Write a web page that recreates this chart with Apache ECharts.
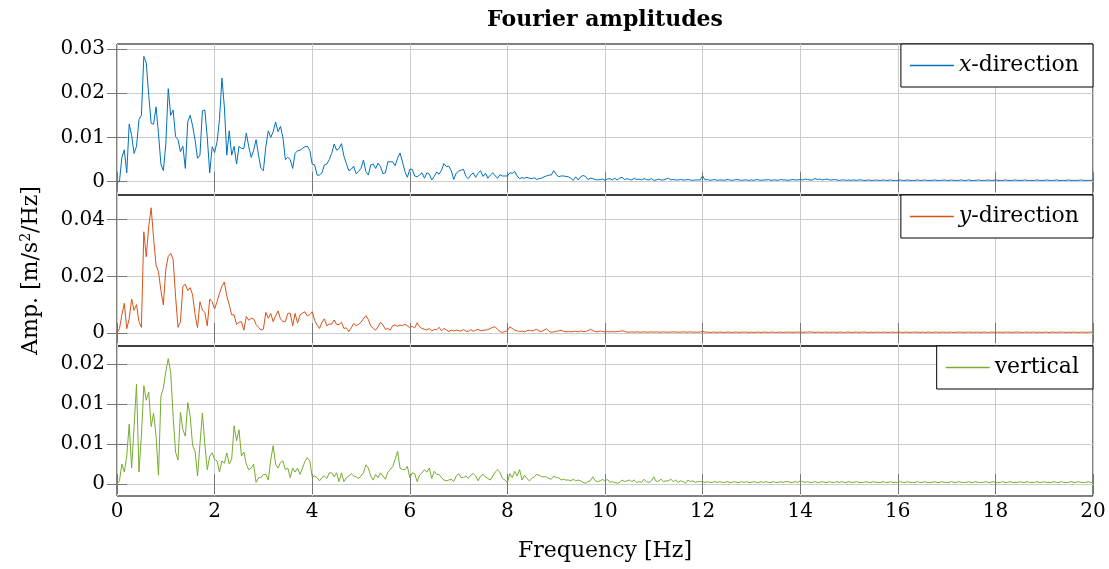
<!DOCTYPE html>
<html><head><meta charset="utf-8">
<script src="https://cdn.jsdelivr.net/npm/echarts@6/dist/echarts.min.js"></script>
<style>html,body{margin:0;padding:0;background:#fff}#c{width:1109px;height:569px}</style>
</head><body><div id="c"></div>
<script>
// Frequency grid step [Hz]; amplitudes below are in units of 1e-4 m/s^2/Hz
const FREQ_STEP = 0.05;
const UNIT = 1e-4;

const ampX = [
0,0,55,72,20,130,105,64,80,140,150,283,268,195,132,130,169,109,40,25,
85,210,150,162,102,95,68,80,30,135,150,126,94,53,60,160,162,100,20,79,
66,90,140,234,169,60,115,60,80,40,80,75,75,110,79,55,71,95,60,30,
25,80,115,100,113,135,113,125,100,50,55,50,30,64,70,71,75,79,80,71,
40,38,15,15,20,38,40,50,64,85,71,75,86,58,41,25,28,35,18,23,
30,49,23,15,38,40,30,42,34,18,20,45,45,45,36,53,65,45,23,10,
28,28,13,11,15,20,8,20,17,4,12,22,17,26,41,34,35,25,5,19,
24,26,28,12,7,15,20,10,19,25,12,19,8,15,20,13,8,16,13,13,
13,20,19,23,13,7,9,8,10,8,7,9,5,7,8,11,13,15,15,25,
17,11,13,13,12,11,8,3,11,4,11,14,12,5,8,7,5,4,5,6,
3,6,7,4,8,4,8,10,5,7,5,4,8,5,6,4,7,5,4,7,
3,4,6,4,4,6,8,4,5,4,4,5,4,4,5,4,3,4,4,4,
13,4,5,3,4,5,3,4,4,3,5,4,3,4,5,4,3,4,4,3,
4,3,5,4,3,4,4,5,3,4,4,3,5,4,4,3,4,5,4,4,
5,4,6,5,4,4,7,5,6,4,5,6,4,4,5,4,3,4,4,3,
4,3,4,3,4,4,3,3,4,3,3,4,3,3,4,3,3,4,3,3,
3,4,3,3,4,3,3,3,4,3,3,4,3,3,3,4,3,3,3,4,
3,3,4,3,3,3,4,3,3,4,3,3,3,4,3,3,3,4,3,3,
4,3,3,3,4,3,3,3,4,3,3,3,4,3,3,3,3,4,3,3,
3,4,3,3,3,4,3,3,3,3,4,3,3,3,3,4,3,3,3,3,
3];

const ampY = [
0,15,64,105,15,50,120,80,100,40,
20,357,269,375,442,334,240,216,150,99,
225,270,281,260,130,20,40,165,172,150,
160,134,64,19,110,81,72,25,120,110,
85,110,140,165,180,130,100,64,64,30,
38,40,10,58,45,52,50,30,20,10,
14,73,52,69,40,60,78,50,40,40,
69,70,25,69,35,64,70,75,60,65,
75,45,28,16,38,50,25,32,31,46,
30,30,38,16,18,5,18,34,26,30,
38,50,61,48,25,16,10,22,38,28,
13,16,10,26,28,24,28,26,31,25,
19,24,18,36,22,16,13,11,16,7,
13,11,20,8,16,11,5,10,7,10,
8,7,12,7,5,12,6,10,13,8,
10,10,12,16,20,22,12,5,2,5,
8,22,16,10,8,5,7,4,8,10,
7,10,13,7,5,10,15,7,2,4,
6,7,10,6,4,5,4,5,6,4,
7,5,5,8,13,9,5,4,7,5,
4,5,4,5,4,5,6,8,6,3,
3,4,3,4,3,3,4,3,3,4,
3,4,3,3,4,3,3,3,4,3,
3,3,4,3,3,4,3,3,3,3,
6,3,3,2,3,3,2,3,3,2,
3,3,2,3,3,2,3,3,3,2,
3,2,3,3,2,3,3,2,3,3,
2,3,3,2,3,3,3,2,3,3,
3,2,3,3,4,3,2,3,3,2,
3,3,2,3,3,2,3,3,2,3,
3,2,3,3,2,3,3,3,2,3,
2,3,3,2,3,3,2,3,3,2,
3,3,2,3,3,2,3,3,3,2,
3,2,3,3,2,3,3,2,3,3,
2,3,3,2,3,3,3,2,3,3,
3,2,3,3,2,3,3,2,3,3,
2,3,3,2,3,3,3,2,3,3,
3,2,3,3,2,3,3,2,3,2,
3,3,2,3,3,2,3,3,3,2,
3,2,3,3,2,3,3,2,3,3,
3];

const ampV = [
0,4,25,15,35,75,20,72,125,15,
60,123,105,115,72,89,60,11,110,120,
141,157,140,85,40,30,90,68,60,102,
85,48,41,10,50,89,50,18,35,39,
31,29,15,29,26,39,25,31,73,54,
68,35,40,25,18,20,25,2,8,8,
12,12,5,30,48,25,20,27,29,18,
20,8,20,15,20,12,20,28,33,29,
9,10,8,4,8,10,7,14,14,9,
14,3,14,3,8,10,13,10,9,7,
10,14,24,20,10,5,12,8,14,10,
6,15,18,22,31,41,20,18,18,22,
8,14,13,3,11,14,18,15,20,7,
16,12,12,8,5,4,5,6,3,10,
13,8,8,10,7,11,13,10,4,10,
12,9,7,5,10,15,18,14,7,5,
2,13,8,16,10,18,5,11,7,4,
7,9,12,11,9,9,9,7,6,10,
8,8,5,6,5,5,4,6,4,5,
4,2,1,3,4,9,4,3,4,6,
3,6,2,3,2,1,2,5,3,4,
5,3,5,2,3,2,6,3,2,4,
9,3,4,6,3,4,4,6,3,5,
2,4,3,1,5,3,4,2,3,3,
3,2,3,2,2,3,2,3,2,2,
3,2,2,3,2,2,3,2,3,2,
2,3,2,2,3,2,3,2,2,3,
2,2,3,2,3,3,2,2,3,2,
4,3,2,3,2,2,3,2,2,3,
2,2,3,2,2,3,2,3,2,2,
3,2,2,3,2,2,2,3,2,2,
3,2,2,2,3,2,2,3,2,2,
2,3,2,2,3,2,2,2,3,2,
2,3,2,2,2,3,2,2,3,2,
2,2,3,2,2,3,2,2,2,3,
2,2,3,2,2,2,3,2,2,3,
2,2,2,3,2,2,3,2,2,2,
3,2,2,3,2,2,2,3,2,2,
3,2,2,2,3,2,2,3,2,2,
2,3,2,2,3,2,2,2,3,2,
2];

const seriesNames = ['x-direction', 'y-direction', 'vertical'];
const seriesColors = ['#0072BD', '#D95319', '#77AC30'];

const xTickValues = [0, 2, 4, 6, 8, 10, 12, 14, 16, 18, 20];
const yTickValues = [[0, 0.01, 0.02, 0.03], [0, 0.02, 0.04], [0, 0.005, 0.01, 0.015]];
const yTickLabels = [['0', '0.01', '0.02', '0.03'], ['0', '0.02', '0.04'], ['0', '0.01', '0.01', '0.02']];
const yRanges = [[-0.003, 0.0311], [-0.00459, 0.0487], [-0.0015, 0.01729]];

const titleText = 'Fourier amplitudes';
const xAxisTitle = 'Frequency [Hz]';
const yAxisTitle = 'Amp. [m/s{sup|2}/Hz]';

const FONT = 'DejaVu Serif';
const gridTops = [44, 195, 346];
const gridHeights = [151, 151, 150];
const TICK_COLOR = '#777';
const GRID_COLOR = '#cccccc';

function toPairs(arr) {
  return arr.map((v, i) => [+(i * FREQ_STEP).toFixed(2), v * UNIT]);
}
const allAmps = [ampX, ampY, ampV];

function labelFmt(ticks, labels) {
  return function (v) {
    for (let k = 0; k < ticks.length; k++) if (Math.abs(ticks[k] - v) < 1e-9) return labels[k];
    return '';
  };
}

const grids = [], xAxes = [], yAxes = [], series = [], legends = [];
for (let i = 0; i < 3; i++) {
  grids.push({left: 117, right: 16, top: gridTops[i], height: gridHeights[i],
    show: true, borderColor: '#000', borderWidth: 1, backgroundColor: 'transparent', containLabel: false});
}
for (let i = 0; i < 3; i++) {
  xAxes.push({
    type: 'value', gridIndex: i, position: 'bottom', min: 0, max: 20, interval: 2,
    axisLine: {show: false},
    axisTick: {show: true, inside: true, length: 10, lineStyle: {color: TICK_COLOR}},
    axisLabel: {show: i === 2, margin: 6, fontFamily: FONT, fontSize: 20, color: '#000'},
    splitLine: {show: true, lineStyle: {color: GRID_COLOR, width: 1}},
    name: i === 2 ? xAxisTitle : '', nameLocation: 'middle', nameGap: 44,
    nameTextStyle: {fontFamily: FONT, fontSize: 22, color: '#000'}
  });
}
for (let i = 0; i < 3; i++) {
  xAxes.push({
    type: 'value', gridIndex: i, position: 'top', min: 0, max: 20, interval: 2,
    axisLine: {show: false},
    axisTick: {show: true, inside: true, length: 10, lineStyle: {color: TICK_COLOR}},
    axisLabel: {show: false}, splitLine: {show: false}
  });
}
for (let i = 0; i < 3; i++) {
  yAxes.push({
    type: 'value', gridIndex: i, position: 'left', min: yRanges[i][0], max: yRanges[i][1],
    axisLine: {show: false},
    axisTick: {show: true, inside: true, length: 10, lineStyle: {color: TICK_COLOR}, customValues: yTickValues[i]},
    axisLabel: {show: true, margin: 12, fontFamily: FONT, fontSize: 20, color: '#000',
      customValues: yTickValues[i], formatter: labelFmt(yTickValues[i], yTickLabels[i])},
    splitLine: {show: true, lineStyle: {color: GRID_COLOR, width: 1}},
    name: i === 1 ? yAxisTitle : '', nameLocation: 'middle', nameGap: 74, nameRotate: 90,
    nameTextStyle: {fontFamily: FONT, fontSize: 22, color: '#000',
      rich: {sup: {fontFamily: FONT, fontSize: 14, color: '#000', padding: [0, 0, 10, 0]}}}
  });
}
for (let i = 0; i < 3; i++) {
  yAxes.push({
    type: 'value', gridIndex: i, position: 'right', min: yRanges[i][0], max: yRanges[i][1],
    axisLine: {show: false},
    axisTick: {show: true, inside: true, length: 10, lineStyle: {color: TICK_COLOR}, customValues: yTickValues[i]},
    axisLabel: {show: false, customValues: yTickValues[i]}, splitLine: {show: false}
  });
}
for (let i = 0; i < 3; i++) {
  series.push({
    type: 'line', name: seriesNames[i], xAxisIndex: i, yAxisIndex: i,
    data: toPairs(allAmps[i]), showSymbol: false, symbol: 'none',
    lineStyle: {color: seriesColors[i], width: 1}, itemStyle: {color: seriesColors[i]},
    z: 3
  });
  legends.push({
    data: [seriesNames[i]], right: 16, top: gridTops[i], orient: 'vertical',
    backgroundColor: '#fff', borderColor: '#000', borderWidth: 1, borderRadius: 0,
    padding: [9.5, 14, 9.5, 9], itemWidth: 44, itemHeight: 1.5, itemGap: 0, icon: 'rect',
    selectedMode: false, z: 10,
    formatter: function (n) {
      if (n === 'x-direction') return '{it|x}-direction';
      if (n === 'y-direction') return '{it|y}-direction';
      return n;
    },
    textStyle: {fontFamily: FONT, fontSize: 22, color: '#000', lineHeight: 24,
      rich: {it: {fontFamily: FONT, fontSize: 22, fontStyle: 'italic', color: '#000', lineHeight: 24}}}
  });
}

const chart = echarts.init(document.getElementById('c'), null, {renderer: 'canvas'});
chart.setOption({
  animation: false,
  backgroundColor: '#fff',
  grid: grids, xAxis: xAxes, yAxis: yAxes, series: series, legend: legends,
  graphic: [{
    type: 'text', x: 605, y: 20, z: 10,
    style: {text: titleText, fontFamily: FONT, fontSize: 22, fontWeight: 'bold', fill: '#000',
      align: 'center', verticalAlign: 'middle', textAlign: 'center', textVerticalAlign: 'middle'}
  }]
});
</script></body></html>
